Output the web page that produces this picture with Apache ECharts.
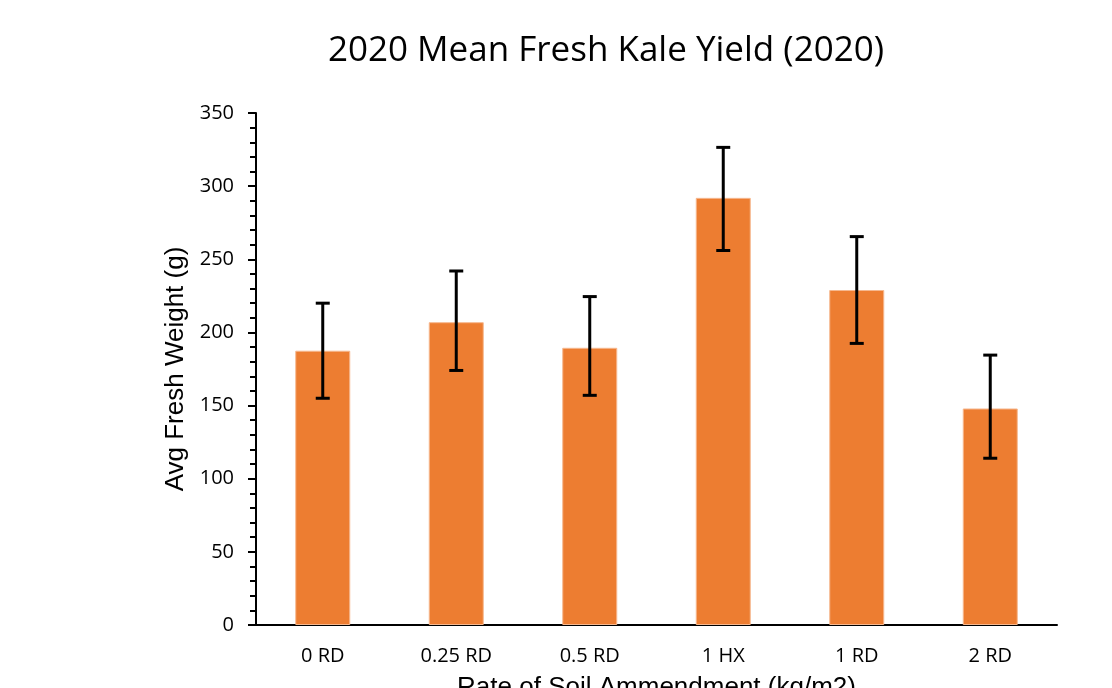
<!DOCTYPE html>
<html>
<head>
<meta charset="utf-8">
<script src="https://cdn.jsdelivr.net/npm/echarts@6/dist/echarts.min.js"></script>
<style>html,body{margin:0;padding:0;background:#fff;}#c{width:1112px;height:688px;}</style>
</head>
<body>
<div id="c"></div>
<script>
const categories = ['0 RD', '0.25 RD', '0.5 RD', '1 HX', '1 RD', '2 RD'];
const meanWeight = [187.5, 207, 189.5, 292, 229, 148];
const errLow = [155, 174, 157, 256, 192.5, 114];
const errHigh = [220, 242, 224.5, 326.5, 265.5, 184.5];
const yTicks = [0, 50, 100, 150, 200, 250, 300, 350];

const chart = echarts.init(document.getElementById('c'), null, {renderer: 'canvas'});
const errData = categories.map((c, i) => [i, errLow[i], errHigh[i]]);

chart.setOption({
  animation: false,
  backgroundColor: '#fff',
  title: {
    text: '2020 Mean Fresh Kale Yield (2020)',
    left: 601, top: 29, textAlign: 'center',
    textStyle: {fontFamily: 'Open Sans', fontSize: 35, fontWeight: 'normal', color: '#000'}
  },
  grid: {left: 256, right: 55, top: 113, bottom: 63, outerBoundsMode: 'none', containLabel: false},
  xAxis: {
    type: 'category', data: categories,
    name: 'Rate of Soil Ammendment (kg/m2)', nameLocation: 'middle', nameGap: 50,
    nameTextStyle: {fontFamily: 'Liberation Sans', fontSize: 26, color: '#000'},
    axisLine: {lineStyle: {color: '#000', width: 2}},
    axisTick: {show: false},
    axisLabel: {fontFamily: 'Open Sans', fontSize: 20, color: '#000', margin: 21}
  },
  yAxis: {
    type: 'value', min: yTicks[0], max: yTicks[yTicks.length - 1], interval: 50,
    name: 'Avg Fresh Weight (g)', nameLocation: 'middle', nameGap: 66,
    nameTextStyle: {fontFamily: 'Liberation Sans', fontSize: 26, color: '#000'},
    axisLine: {show: true, lineStyle: {color: '#000', width: 2}},
    axisTick: {show: true, length: 8, lineStyle: {color: '#000', width: 2}},
    minorTick: {show: true, splitNumber: 5, length: 6, lineStyle: {color: '#000', width: 2}},
    splitLine: {show: false},
    axisLabel: {fontFamily: 'Open Sans', fontSize: 20, color: '#000', margin: 22}
  },
  series: [
    {
      type: 'bar', data: meanWeight, barWidth: 55,
      itemStyle: {color: '#ED7D31', borderColor: '#F6B88F', borderWidth: 1}
    },
    {
      type: 'custom', data: errData, z: 10,
      renderItem: function (params, api) {
        const x = api.value(0);
        const lo = api.coord([x, api.value(1)]);
        const hi = api.coord([x, api.value(2)]);
        const hw = 7;
        const style = {stroke: '#000', lineWidth: 3};
        return {
          type: 'group',
          children: [
            {type: 'line', shape: {x1: lo[0], y1: lo[1], x2: hi[0], y2: hi[1]}, style: style},
            {type: 'line', shape: {x1: lo[0] - hw, y1: lo[1], x2: lo[0] + hw, y2: lo[1]}, style: style},
            {type: 'line', shape: {x1: hi[0] - hw, y1: hi[1], x2: hi[0] + hw, y2: hi[1]}, style: style}
          ]
        };
      }
    }
  ]
});
</script>
</body>
</html>
